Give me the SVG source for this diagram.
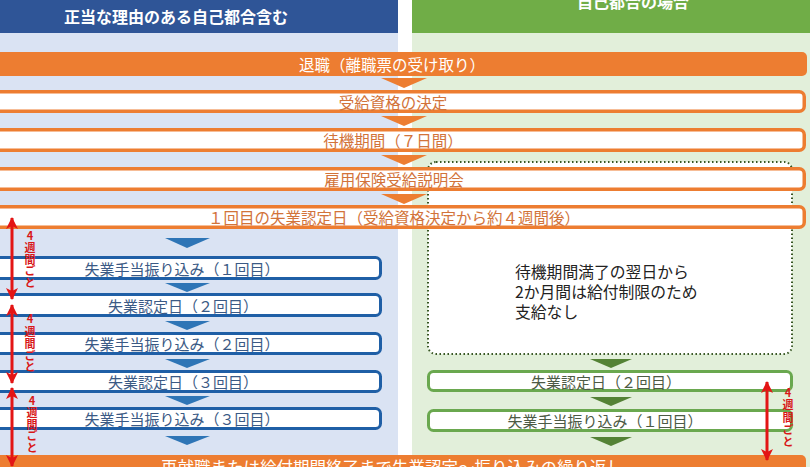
<svg xmlns="http://www.w3.org/2000/svg" width="810" height="467" viewBox="0 0 810 467">
<style>
text{font-family:"Noto Sans CJK JP","Noto Sans",sans-serif;dominant-baseline:central;text-anchor:middle}
.hd{fill:#fff;font-weight:bold;font-size:16px}
.ob{fill:#ed7d31}
.oo{fill:#fff;stroke:#ed7d31;stroke-width:3.5}
.ot{fill:#d2733a;font-size:15.5px}
.bb{fill:#fff;stroke:#1f5fa6;stroke-width:3}
.bt{fill:#3b5a85;font-size:15px}
.bc{fill:#2e75b6}
.gb{fill:#fff;stroke:#6aa84f;stroke-width:3}
.gt{fill:#4d5a45;font-size:15px}
.gc{fill:#548235}
.oc{fill:#ed7d31}
.nt{text-anchor:start;font-size:15.8px;fill:#222}
.ra{stroke:#e31515;stroke-width:3;fill:none;marker-start:url(#ah);marker-end:url(#ah)}
.rl{fill:#d81818;font-weight:bold;font-size:11px}
</style>
<defs>
<marker id="ah" markerUnits="userSpaceOnUse" viewBox="0 0 12 12" refX="11" refY="6" markerWidth="12" markerHeight="12" orient="auto-start-reverse">
<path d="M0,0 L12,6 L0,12 L3,6 Z" fill="#e31515"/>
</marker>
</defs>
<g id="panel-left">
<rect x="0" y="33" width="398" height="434" fill="#dae3f3"/>
<rect x="0" y="0" width="398" height="33" fill="#2f5597"/>
<text class="hd" x="176" y="16">正当な理由のある自己都合含む</text>
</g>
<g id="panel-right">
<rect x="412" y="33" width="398" height="434" fill="#e2efda"/>
<rect x="412" y="0" width="398" height="33" fill="#70ad47"/>
<text class="hd" x="633" y="1">自己都合の場合</text>
</g>
<g id="no-payment">
<rect x="428" y="162" width="364" height="192" rx="8" fill="#fff" stroke="#375623" stroke-width="2" stroke-dasharray="1.5 2.5"/>
<text class="nt" x="515" y="271">待機期間満了の翌日から</text>
<text class="nt" x="515" y="291">2か月間は給付制限のため</text>
<text class="nt" x="515" y="311">支給なし</text>
</g>
<g id="retire">
<rect class="ob" x="-10" y="52" width="817" height="24" rx="5"/>
<text x="392" y="64" style="fill:#fff;font-size:15.5px">退職（離職票の受け取り）</text>
</g>
<g id="eligibility">
<rect class="oo" x="-10" y="91.75" width="814.25" height="19.5" rx="5"/>
<text class="ot" x="393" y="101.5">受給資格の決定</text>
</g>
<g id="waiting">
<rect class="oo" x="-10" y="129.75" width="814.25" height="20.5" rx="5"/>
<text class="ot" x="393" y="140">待機期間（７日間）</text>
</g>
<g id="briefing">
<rect class="oo" x="-10" y="168.75" width="814.25" height="20.5" rx="5"/>
<text class="ot" x="394" y="179">雇用保険受給説明会</text>
</g>
<g id="first-cert">
<rect class="oo" x="-10" y="206.75" width="814.25" height="20.5" rx="5"/>
<text class="ot" x="394" y="217">１回目の失業認定日（受給資格決定から約４週間後）</text>
</g>
<g id="b-pay1">
<rect class="bb" x="-10" y="257.5" width="390.5" height="21" rx="5"/>
<text class="bt" x="182" y="268">失業手当振り込み（１回目）</text>
</g>
<g id="b-cert2">
<rect class="bb" x="-10" y="294.5" width="390.5" height="21" rx="5"/>
<text class="bt" x="183" y="305">失業認定日（２回目）</text>
</g>
<g id="b-pay2">
<rect class="bb" x="-10" y="333.5" width="390.5" height="20" rx="5"/>
<text class="bt" x="182" y="343.5">失業手当振り込み（２回目）</text>
</g>
<g id="b-cert3">
<rect class="bb" x="-10" y="371.5" width="390.5" height="20" rx="5"/>
<text class="bt" x="183" y="381.5">失業認定日（３回目）</text>
</g>
<g id="b-pay3">
<rect class="bb" x="-10" y="408.5" width="390.5" height="20" rx="5"/>
<text class="bt" x="182" y="418.5">失業手当振り込み（３回目）</text>
</g>
<g id="g-cert2">
<rect class="gb" x="428.5" y="371.5" width="363" height="19" rx="5"/>
<text class="gt" x="606" y="381">失業認定日（２回目）</text>
</g>
<g id="g-pay1">
<rect class="gb" x="428.5" y="410.5" width="363" height="20" rx="5"/>
<text class="gt" x="605" y="420.5">失業手当振り込み（１回目）</text>
</g>
<g id="repeat">
<rect class="ob" x="-10" y="455" width="816" height="30" rx="5"/>
<text x="392" y="467" style="fill:#fff;font-size:16.5px">再就職または給付期間終了まで失業認定～振り込みの繰り返し</text>
</g>
<g id="connectors">
<polygon class="oc" points="381,78 427,78 404,88"/>
<polygon class="oc" points="381,116 427,116 404,126"/>
<polygon class="oc" points="381,155 427,155 404,165"/>
<polygon class="oc" points="381,194 427,194 404,204"/>
<polygon class="bc" points="165,238 210,238 187,248"/>
<polygon class="bc" points="165,283 210,283 187,292"/>
<polygon class="bc" points="165,321 210,321 187,330"/>
<polygon class="bc" points="165,359 210,359 187,368"/>
<polygon class="bc" points="165,396 210,396 187,405"/>
<polygon class="bc" points="165,436 210,436 187,445"/>
<polygon class="gc" points="590,359 632,359 611,368"/>
<polygon class="gc" points="590,397 632,397 611,406"/>
<polygon class="gc" points="590,437 632,437 611,446"/>
<line class="ra" x1="12" y1="218" x2="12" y2="299"/>
<line class="ra" x1="12" y1="305" x2="12" y2="383"/>
<line class="ra" x1="12" y1="388" x2="12" y2="466"/>
<line class="ra" x1="767" y1="382" x2="767" y2="460"/>
</g>
<g id="labels">
<text class="rl" x="30"><tspan x="30" y="235">4</tspan><tspan x="30" y="247">週</tspan><tspan x="30" y="258.5">間</tspan><tspan x="30" y="270">ご</tspan><tspan x="30" y="282">と</tspan></text>
<text class="rl" x="30"><tspan x="30" y="318">4</tspan><tspan x="30" y="331">週</tspan><tspan x="30" y="343">間</tspan><tspan x="30" y="354.5">ご</tspan><tspan x="30" y="366">と</tspan></text>
<text class="rl" x="32"><tspan x="32" y="400">4</tspan><tspan x="32" y="412">週</tspan><tspan x="32" y="423.5">間</tspan><tspan x="32" y="435">ご</tspan><tspan x="32" y="447">と</tspan></text>
<text class="rl" x="788"><tspan x="788" y="392">4</tspan><tspan x="788" y="404">週</tspan><tspan x="788" y="416.5">間</tspan><tspan x="788" y="429">ご</tspan><tspan x="788" y="441">と</tspan></text>
</g>
</svg>
